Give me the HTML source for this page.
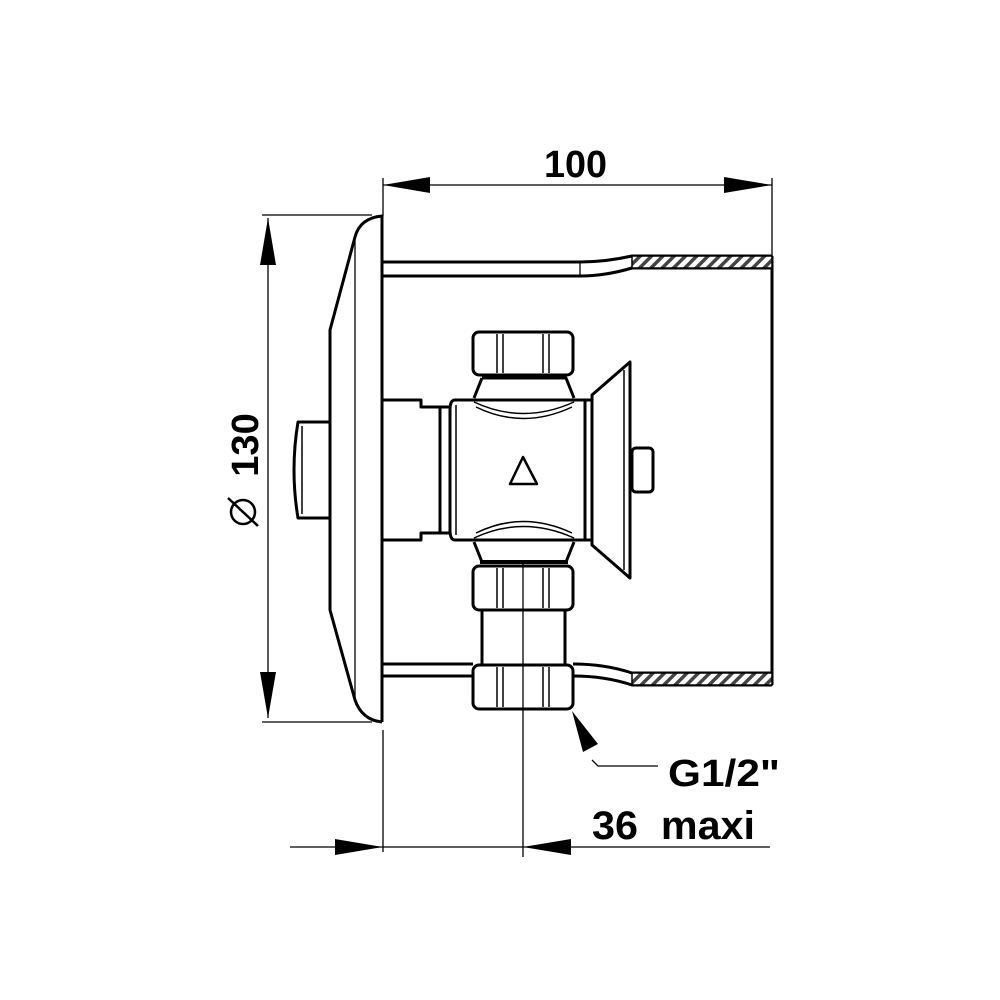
<!DOCTYPE html>
<html><head><style>body{margin:0;background:#fff}svg{display:block}</style></head><body>
<svg width="1000" height="1000" viewBox="0 0 1000 1000" xmlns="http://www.w3.org/2000/svg">
<defs>
<pattern id="h" width="8" height="8" patternUnits="userSpaceOnUse" patternTransform="rotate(45)">
<rect width="8" height="8" fill="#fff"/><rect width="3.5" height="8" fill="#444"/></pattern>
</defs>
<g fill="none" stroke="#000" stroke-width="1.3">
<line x1="383" y1="185" x2="772" y2="185"/>
<line x1="383" y1="178" x2="383" y2="216"/>
<line x1="772" y1="178" x2="772" y2="256"/>
<line x1="268" y1="218" x2="268" y2="718"/>
<line x1="262" y1="215" x2="372" y2="215"/>
<line x1="262" y1="722" x2="372" y2="722"/>
<line x1="290" y1="847" x2="770" y2="847"/>
<line x1="383" y1="730" x2="383" y2="852"/>
<line x1="523" y1="560" x2="523" y2="857"/>
<line x1="355" y1="237" x2="355" y2="700"/>
<polyline points="592,760 598,766 658,766"/>
<line x1="580" y1="262" x2="580" y2="276"/>
</g>
<g fill="#000">
<polygon points="383,185 430,177 430,193"/>
<polygon points="772,185 724,177 724,193"/>
<polygon points="268,218 260,265 276,265"/>
<polygon points="268,718 260,672 276,672"/>
<polygon points="383,847 335,839 335,855"/>
<polygon points="523,847 571,839 571,855"/>
<polygon points="572,711 583,752 598,744"/>
</g>
<g fill="none" stroke="#000" stroke-width="3" stroke-linejoin="round">
<path d="M382,722 L382,216 Q360,218 355,237 L330,330 L330,610 L355,700 Q362,720 382,722"/>
<path d="M330,422 L298,422 Q290,470 298,518 L330,518"/>
<path d="M383,262 L580,262 Q605,262 632,256 L772,256"/>
<path d="M383,276 L580,276 Q605,276 632,268 L772,268"/>
<line x1="772" y1="256" x2="772" y2="685"/>
<path d="M383,664 L473,664 M573,664 Q605,664 632,673 L772,673"/>
<path d="M383,676 L473,676 M573,676 Q605,676 632,685 L772,685"/>
<path d="M383,400 L421,400 L421,407 L440,407 L440,533 L421,533 L421,540 L383,540"/>
<rect x="440" y="407" width="10" height="126"/>
<path d="M455,400 L585,400 L585,540 L455,540 Q450,540 450,530 L450,410 Q450,400 455,400"/>
<rect x="585" y="400" width="7" height="140"/>
<polygon points="592,395 630,362 630,578 592,545"/>
<rect x="632" y="448" width="21" height="44" rx="4"/>
<rect x="473" y="332" width="100" height="43" rx="6"/>
<path d="M482,378 L566,378 L574,398 M482,378 L474,398"/>
<path d="M474,542 L482,562 L566,562 L574,542"/>
<rect x="473" y="566" width="100" height="44" rx="6"/>
<rect x="482" y="610" width="83" height="55"/>
<rect x="473" y="665" width="100" height="44" rx="6"/>
<polygon points="510,484 537,484 523,457" stroke-width="2.5"/>
</g>
<g fill="none" stroke="#000" stroke-width="1.5">
<line x1="503" y1="334" x2="503" y2="373"/><line x1="543" y1="334" x2="543" y2="373"/>
<line x1="497" y1="334" x2="497" y2="373"/><line x1="549" y1="334" x2="549" y2="373"/>
<line x1="497" y1="568" x2="497" y2="608"/><line x1="549" y1="568" x2="549" y2="608"/>
<line x1="503" y1="568" x2="503" y2="608"/><line x1="543" y1="568" x2="543" y2="608"/>
<line x1="497" y1="667" x2="497" y2="707"/><line x1="549" y1="667" x2="549" y2="707"/>
<line x1="503" y1="667" x2="503" y2="707"/><line x1="543" y1="667" x2="543" y2="707"/>
<path d="M474,402 Q523,425 574,402"/><path d="M476,407 Q523,430 572,407"/>
<path d="M474,538 Q523,515 574,538"/><path d="M476,533 Q523,510 572,533"/>
<line x1="456" y1="405" x2="456" y2="535"/>
<line x1="624" y1="370" x2="624" y2="570"/>
<line x1="302" y1="426" x2="302" y2="514"/>
<line x1="480" y1="562" x2="568" y2="562" stroke-width="4"/>
</g>
<g fill="url(#h)" stroke="#000" stroke-width="1.5">
<rect x="632" y="256" width="140" height="12"/>
<rect x="632" y="673" width="140" height="12"/>
</g>
<g font-family="Liberation Sans, sans-serif" font-weight="bold" font-size="38" fill="#000">
<text x="544" y="177" textLength="63" lengthAdjust="spacingAndGlyphs">100</text>
<text x="668" y="786" textLength="112" lengthAdjust="spacingAndGlyphs">G1/2"</text>
<text x="592" y="839" font-size="40" textLength="163" lengthAdjust="spacingAndGlyphs">36&#160;&#160;maxi</text>
<text transform="translate(258,445) rotate(-90)" text-anchor="middle">130</text>
</g>
<g fill="none" stroke="#000" stroke-width="2.5">
<circle cx="243" cy="512" r="12"/>
<line x1="228" y1="498" x2="258" y2="526"/>
</g>
</svg>
</body></html>
